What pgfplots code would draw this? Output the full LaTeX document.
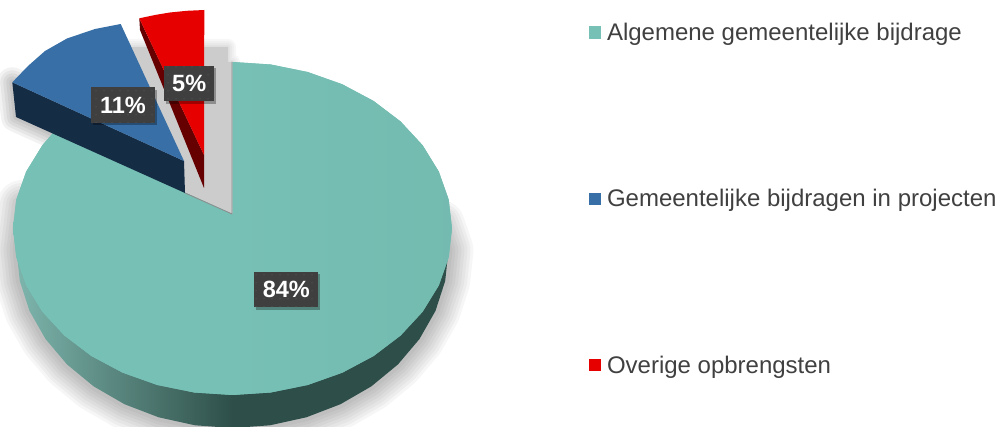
\documentclass[border=0pt]{standalone}
\usepackage{fontspec}
\setmainfont{Liberation Sans}
\usepackage{pgfplots}
\usepackage{pgfplotstable}
\pgfplotsset{compat=1.18}
\usetikzlibrary{patterns.meta,shadows}
\definecolor{teal1}{HTML}{77C0B5}
\definecolor{teal2}{HTML}{2E4F49}
\definecolor{teal3}{HTML}{7DB5AC}
\definecolor{blue1}{HTML}{376FA6}
\definecolor{blue2}{HTML}{152C45}
\definecolor{red1}{HTML}{E60000}
\definecolor{red2}{HTML}{660000}
\definecolor{boxc}{HTML}{3F3F3F}
\definecolor{txtc}{HTML}{404040}
\pgfplotstableread{
x y
232.5 214
232.5 62
270.6 64.5
307.6 72
342.25 84.3
373.6 101
400.6 121.5
422.6 145.25
438.8 171.6
448.7 199.6
452 228.5
448.7 257.4
438.8 285.4
422.6 311.75
400.6 335.5
373.6 356
342.25 372.7
307.6 385
270.6 392.5
232.5 395
194.4 392.5
157.4 385
122.75 372.7
91.4 356
64.4 335.5
42.4 311.75
26.2 285.4
16.3 257.4
13 228.5
16.3 199.6
26.2 171.6
42.4 145.25
53 133
232.5 214
}\maintop
\pgfplotstableread{
x y
448.5 250
445.2 280.9
435.5 310.9
419.5 339
398 364.4
371.3 386.4
340.5 404.2
306.4 417.3
270 425.3
232.5 428
195 425.3
158.6 417.3
124.5 404.2
93.7 386.4
67 364.4
45.5 339
29.5 310.9
19.8 280.9
16.5 250
448.5 250
}\mainside
\pgfplotstableread{
x y
440 225
448.5 250
445.2 280.9
435.5 310.9
419.5 339
398 364.4
371.3 386.4
340.5 404.2
306.4 417.3
270 425.3
232.5 428
195 425.3
158.6 417.3
124.5 404.2
93.7 386.4
67 364.4
45.5 339
29.5 310.9
19.8 280.9
16.5 250
22 205
}\mainshadow
\pgfplotstableread{
x y
122 47
228 47
228 62
232 62
232 214
185 193
122 47
}\gap
\pgfplotstableread{
x y
184 161
120.7 24
95 29
67 38.5
45 51
28 66
12.3 82.3
184 161
}\bluetop
\pgfplotstableread{
x y
12.3 82.3
16 117
185 193
184 161
12.3 82.3
}\blueside
\pgfplotstableread{
x y
204 155
139.3 18.3
155 15
170 12.5
187 10.8
204.3 10
204 155
}\redtop
\pgfplotstableread{
x y
139.3 18.3
140 30
204 188
204 155
139.3 18.3
}\redside
\begin{document}
\begin{tikzpicture}
\begin{axis}[
  scale only axis, width=1005pt, height=427pt,
  xmin=0, xmax=1005, ymin=0, ymax=427, y dir=reverse,
  hide axis, clip=true, no markers,
  every axis plot/.append style={line join=round, line cap=round},
  legend style={at={(axis cs:588.5,22)}, anchor=north west, draw=none, fill=none,
    inner sep=0pt, outer sep=0pt, row sep=145.5pt, column sep=5pt,
    nodes={inner sep=1pt},
    font=\fontsize{24}{28}\selectfont, text=txtc},
  legend cell align=left,
  legend image code/.code={\fill[#1] (0pt,-6.2pt) rectangle (12.5pt,6.2pt);},
]
% soft shadows
\pgfplotsinvokeforeach{50,44,38,32,26,20,14,8}{
  \addplot[forget plot, draw=black, draw opacity=0.035, line width=#1pt] table {\mainshadow};
}
\pgfplotsinvokeforeach{30,24,18,12,6}{
  \addplot[forget plot, draw=black, draw opacity=0.05, line width=#1pt] table {\blueside};
}
\pgfplotsinvokeforeach{16,12,8,4}{
  \addplot[forget plot, draw=black!60, draw opacity=0.05, line width=#1pt] table {\gap};
}
\addplot[forget plot, draw=none, fill=black!20] table {\gap};
% main slice
\addplot[forget plot, draw=none, left color=teal3, right color=teal2, middle color=teal2] table {\mainside};
\addplot[draw=none, fill=teal1] table {\maintop};
\addlegendentry{Algemene gemeentelijke bijdrage}
\addplot[forget plot, draw=none, left color=teal1, right color=black!3!teal1, middle color=teal1] table {\maintop};
\addplot[forget plot, draw=black!45, line width=0.8pt] coordinates {(232,62) (232,214) (185,193)};
% blue slice
\addplot[forget plot, draw=none, fill=blue2] table {\blueside};
\addplot[draw=none, fill=blue1] table {\bluetop};
\addlegendentry{Gemeentelijke bijdragen in projecten}
% red slice
\addplot[forget plot, draw=none, fill=red2] table {\redside};
\addplot[draw=none, fill=red1] table {\redtop};
\addlegendentry{Overige opbrengsten}
% labels
\tikzset{lab/.style={fill=boxc, text=white, inner sep=0pt, minimum height=35.5pt, minimum width=#1,
  font=\fontsize{23.5}{26}\selectfont\bfseries,
  general shadow={shadow xshift=2pt, shadow yshift=-2.5pt, fill=black, opacity=0.3},
  postaction={pattern={Dots[distance=8pt,radius=0.5pt]}, pattern color=white!22!boxc}}}
\node[lab=64pt] at (axis cs:286.3,289.5) {84\%};
\node[lab=64pt] at (axis cs:123,105.2) {11\%};
\node[lab=49.7pt] at (axis cs:189.2,83.3) {5\%};
\end{axis}
\pgfresetboundingbox
\path[use as bounding box] (0,0) rectangle (1005pt,427pt);
\end{tikzpicture}
\end{document}
